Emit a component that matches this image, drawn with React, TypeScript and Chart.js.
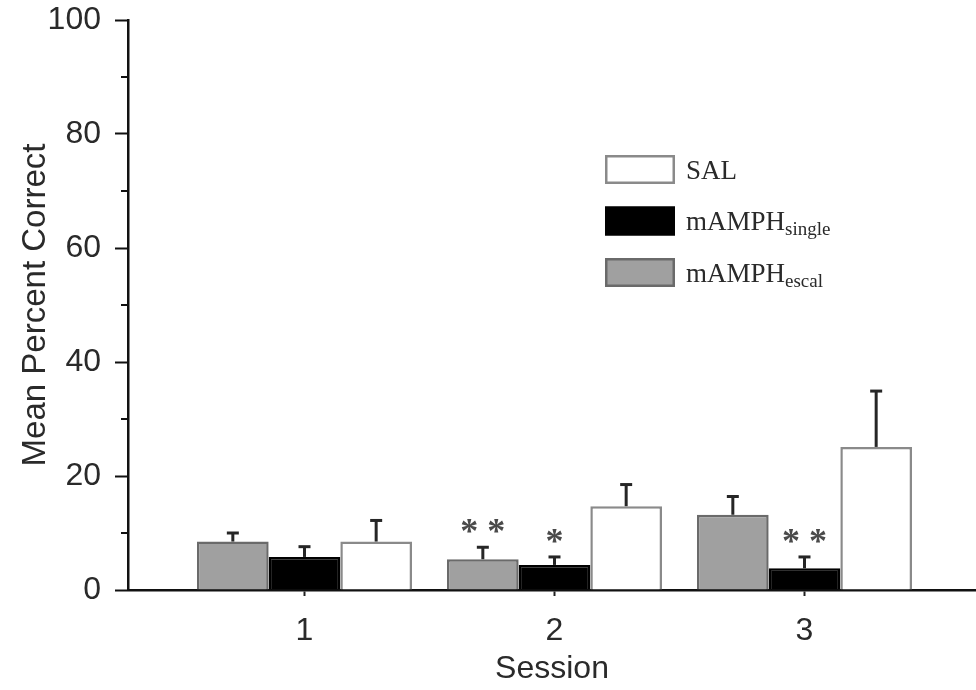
import React, { useEffect, useRef } from 'react';
import { Chart, registerables } from 'chart.js';

Chart.register(...registerables);

// ---- data ----
const sessions = [1, 2, 3];
const sessionLabels = ['1', '2', '3'];
const escalMeans = [8.5, 5.4, 13.2];
const escalErr = [1.5, 2.1, 3.2];
const singleMeans = [5.8, 4.4, 3.8];
const singleErr = [1.8, 1.4, 2.0];
const salMeans = [8.5, 14.7, 25.1];
const salErr = [3.7, 3.8, 9.8];
const escalSig = ['', '**', ''];
const singleSig = ['', '*', '**'];
const salSig = ['', '', ''];
const yTicks = [0, 20, 40, 60, 80, 100];
const yMinorTicks = [10, 30, 50, 70, 90];
const legendNames = ['SAL', 'mAMPH', 'mAMPH'];
const legendSubs = ['', 'single', 'escal'];

// ---- styles ----
const SANS = '"Liberation Sans", Arial, sans-serif';
const SERIF = '"Liberation Serif", "Times New Roman", serif';
const TEXT = '#2a2a2a';
const GRAY_FILL = '#a0a0a0';
const GRAY_BORDER = '#6a6a6a';
const WHITE_BORDER = '#8a8a8a';

const seriesStyle = [
  { fill: GRAY_FILL, border: GRAY_BORDER },
  { fill: '#000000', border: '#000000' },
  { fill: '#ffffff', border: WHITE_BORDER },
];
const legendStyle = [seriesStyle[2], seriesStyle[1], seriesStyle[0]];

const decor = {
  id: 'decor',
  afterDatasetsDraw(chart: any) {
    const { ctx } = chart;
    const y = chart.scales.y;
    const groups = [
      { means: escalMeans, errs: escalErr, sig: escalSig },
      { means: singleMeans, errs: singleErr, sig: singleSig },
      { means: salMeans, errs: salErr, sig: salSig },
    ];
    ctx.save();
    groups.forEach((g, d) => {
      const meta = chart.getDatasetMeta(d);
      meta.data.forEach((bar: any, i: number) => {
        const top = y.getPixelForValue(g.means[i] + g.errs[i]);
        ctx.strokeStyle = '#262626';
        ctx.lineWidth = 3;
        ctx.beginPath();
        ctx.moveTo(bar.x, bar.y);
        ctx.lineTo(bar.x, top);
        ctx.stroke();
        ctx.beginPath();
        ctx.moveTo(bar.x - 6, top);
        ctx.lineTo(bar.x + 6, top);
        ctx.stroke();
        if (g.sig[i]) {
          ctx.font = `bold 36px ${SERIF}`;
          ctx.textAlign = 'center';
          ctx.textBaseline = 'alphabetic';
          ctx.fillStyle = '#4a4a4a';
          ctx.fillText(g.sig[i].split('').join(' '), bar.x, top - 4);
        }
      });
    });
    // minor y ticks
    const left = chart.chartArea.left;
    ctx.strokeStyle = '#111';
    ctx.lineWidth = 2;
    yMinorTicks.forEach((v) => {
      const py = y.getPixelForValue(v);
      ctx.beginPath();
      ctx.moveTo(left - 7, py);
      ctx.lineTo(left, py);
      ctx.stroke();
    });
    ctx.restore();
  },
  afterDraw(chart: any) {
    const { ctx } = chart;
    ctx.save();
    const bx = 605, bw = 70, bh = 29, y0 = 155, step = 51.5;
    legendNames.forEach((name, i) => {
      const by = y0 + i * step;
      const st = legendStyle[i];
      ctx.fillStyle = st.fill;
      ctx.fillRect(bx, by, bw, bh);
      ctx.strokeStyle = st.border;
      ctx.lineWidth = 2.5;
      ctx.strokeRect(bx + 1.25, by + 1.25, bw - 2.5, bh - 2.5);
      const base = by + bh / 2 + 9;
      ctx.fillStyle = TEXT;
      ctx.textAlign = 'left';
      ctx.textBaseline = 'alphabetic';
      ctx.font = `27px ${SERIF}`;
      ctx.fillText(name, 686, base);
      const w = ctx.measureText(name).width;
      if (legendSubs[i]) {
        ctx.font = `19px ${SERIF}`;
        ctx.fillText(legendSubs[i], 686 + w, base + 5);
      }
    });
    ctx.restore();
  },
};

export default function App() {
  const ref = useRef<HTMLCanvasElement>(null);
  useEffect(() => {
    if (!ref.current) return;
    const mk = (means: number[], s: { fill: string; border: string }, label: string) => ({
      label,
      data: sessions.map((x, i) => ({ x, y: means[i] })),
      backgroundColor: s.fill,
      borderColor: s.border,
      borderWidth: 2.5,
      borderSkipped: 'start' as const,
      categoryPercentage: 0.86,
      barPercentage: 1.0,
    });
    const chart = new Chart(ref.current, {
      type: 'bar',
      data: {
        datasets: [
          mk(escalMeans, seriesStyle[0], 'mAMPH escal'),
          mk(singleMeans, seriesStyle[1], 'mAMPH single'),
          mk(salMeans, seriesStyle[2], 'SAL'),
        ],
      },
      options: {
        responsive: false,
        animation: false,
        layout: { padding: { top: 20, left: 0, right: 0, bottom: 0 } },
        plugins: { legend: { display: false }, tooltip: { enabled: false } },
        scales: {
          x: {
            type: 'linear',
            min: 0.294,
            max: 3.686,
            offset: false,
            afterFit: (s: any) => { s.height = 100; s.paddingLeft = 0; s.paddingRight = 0; },
            afterBuildTicks: (s: any) => { s.ticks = sessions.map((v) => ({ value: v })); },
            ticks: {
              callback: (v: any) => {
                const k = sessions.indexOf(Number(v));
                return k >= 0 ? sessionLabels[k] : '';
              },
              font: { family: SANS, size: 32 },
              color: TEXT,
              padding: 16,
              maxRotation: 0,
              autoSkip: false,
            },
            grid: { drawOnChartArea: false, offset: false, tickLength: 6, tickWidth: 2, tickColor: '#222' },
            border: { display: true, color: '#111', width: 2.5 },
            title: { display: true, text: 'Session', font: { family: SANS, size: 32 }, color: TEXT, padding: { top: 0, bottom: 2 } },
          },
          y: {
            type: 'linear',
            min: 0,
            max: 100,
            afterFit: (s: any) => { s.width = 128; s.paddingTop = 0; s.paddingBottom = 0; },
            afterBuildTicks: (s: any) => { s.ticks = yTicks.map((v) => ({ value: v })); },
            ticks: { font: { family: SANS, size: 32 }, color: TEXT, padding: 14 },
            grid: { drawOnChartArea: false, tickLength: 13, tickWidth: 2, tickColor: '#111' },
            border: { display: true, color: '#111', width: 2.5 },
            title: { display: true, text: 'Mean Percent Correct', font: { family: SANS, size: 33 }, color: TEXT, padding: { top: 16, bottom: 0 } },
          },
        },
      },
      plugins: [decor],
    } as any);
    return () => chart.destroy();
  }, []);
  return (
    <div style={{ position: 'absolute', left: 0, top: 0, width: 976, height: 690, background: '#fff' }}>
      <canvas ref={ref} width={976} height={690} />
    </div>
  );
}
